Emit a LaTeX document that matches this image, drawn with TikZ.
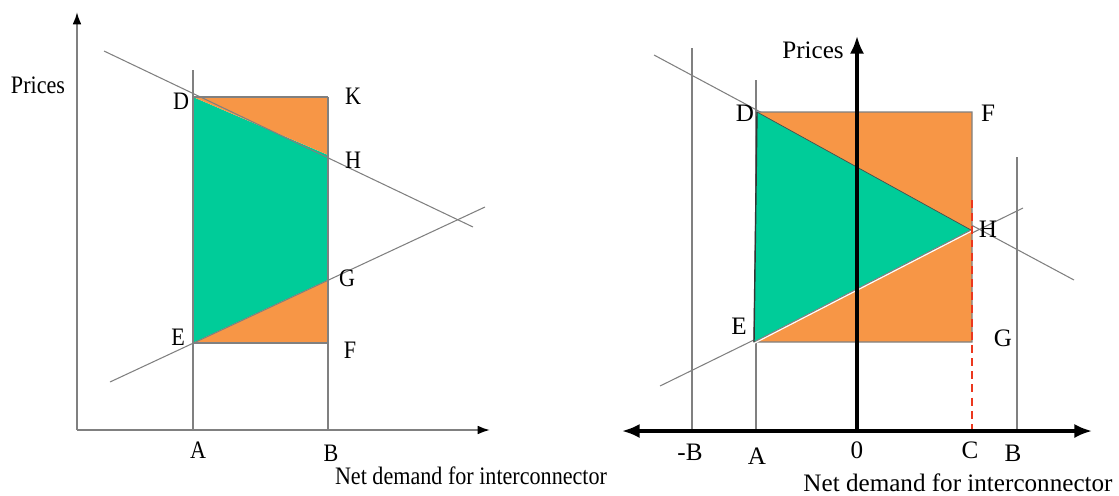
\documentclass[tikz,border=0pt]{standalone}
\usepackage{graphicx}
\usepackage{fontspec}
\setmainfont{Liberation Serif}
\newfontfamily\serifTNR{Liberation Serif}
\usetikzlibrary{arrows.meta}
\definecolor{orangefill}{RGB}{247,150,70}
\definecolor{greenfill}{RGB}{0,204,153}
\definecolor{linegray}{RGB}{128,128,128}
\definecolor{dashred}{RGB}{235,55,30}
\newcommand{\lsq}[1]{\scalebox{0.88}[1]{#1}}
\begin{document}
\begin{tikzpicture}[x=0.02cm,y=-0.02cm,
  thinline/.style={draw=linegray,line width=0.6pt},
  grayaxis/.style={draw=linegray,line width=1.1pt},
  blackaxis/.style={draw=black,line width=1.8pt},
  orangearea/.style={fill=orangefill,draw=none},
  greenarea/.style={fill=greenfill,draw=none},
  lbl/.style={font=\serifTNR\fontsize{14.3}{16}\selectfont,inner sep=0pt},
  reddash/.style={draw=dashred,line width=1.5pt,dash pattern=on 4.5pt off 3pt}]
\useasboundingbox (0,0) rectangle (1119,495);
% ===== Left panel =====
\coordinate (DL) at (193,97);
\coordinate (KL) at (328,97);
\coordinate (HL) at (328,155);
\coordinate (GL) at (328,280);
\coordinate (EL) at (193,343);
\coordinate (FL) at (328,343);
\coordinate (dL1) at (104,51);
\coordinate (dL2) at (473,227);
\coordinate (sL1) at (110,382);
\coordinate (sL2) at (485,207);
\coordinate (aLtop) at (193,70);
\coordinate (aLbot) at (193,430);
\coordinate (bLbot) at (328,430);
\coordinate (oL) at (77,430);
\coordinate (yLtop) at (77,12);
\coordinate (xLend) at (490,430);
\fill[greenarea] (DL) -- (HL) -- (GL) -- (EL) -- cycle;
\fill[orangearea] (DL) -- (KL) -- (HL) -- cycle;
\fill[orangearea] (EL) -- (GL) -- (FL) -- cycle;
\draw[thinline] (DL) -- (KL);
\draw[thinline] (EL) -- (FL);
\draw[thinline] (aLtop) -- (aLbot);
\draw[thinline] (KL) -- (bLbot);
\draw[thinline] (dL1) -- (dL2);
\draw[thinline] (sL1) -- (sL2);
\draw[grayaxis,-{Latex[length=7pt,width=5pt,black]}] (oL) -- (yLtop);
\draw[grayaxis,-{Latex[length=7pt,width=5pt,black]}] (oL) -- (xLend);
\node[lbl] (pricesL) at (38,85) {\lsq{Prices}};
\node[lbl] (labDL) at (181,101) {\lsq{D}};
\node[lbl] (labKL) at (353,96) {\lsq{K}};
\node[lbl] (labHL) at (353,160) {\lsq{H}};
\node[lbl] (labGL) at (347,278) {\lsq{G}};
\node[lbl] (labEL) at (178,337) {\lsq{E}};
\node[lbl] (labFL) at (350,350) {\lsq{F}};
\node[lbl] (labAL) at (198,450) {\lsq{A}};
\node[lbl] (labBL) at (331,453) {\lsq{B}};
\node[lbl] (netL) at (471,476) {\lsq{Net demand for interconnector}};
% ===== Right panel =====
\coordinate (DR) at (757,112);
\coordinate (FR) at (972,112);
\coordinate (GR) at (972,342);
\coordinate (ER) at (754,342);
\coordinate (HR) at (971,230);
\coordinate (dR1) at (654,55);
\coordinate (dR2) at (1074,280);
\coordinate (sR1) at (660,386);
\coordinate (sR2) at (1023,208);
\coordinate (mBtop) at (692,48);
\coordinate (mBbot) at (692,431);
\coordinate (aRtop) at (756,80);
\coordinate (aRbot) at (756,431);
\coordinate (bRtop) at (1017,157);
\coordinate (bRbot) at (1017,431);
\coordinate (oR) at (857,431);
\coordinate (yRtop) at (857,36);
\coordinate (xRleft) at (622,431);
\coordinate (xRright) at (1092,431);
\coordinate (cTop) at (972,200);
\coordinate (cBot) at (972,431);
\draw[thinline] (mBtop) -- (mBbot);
\draw[thinline] (aRtop) -- (aRbot);
\draw[thinline] (bRtop) -- (bRbot);
\draw[thinline] (dR1) -- (dR2);
\draw[thinline] (sR1) -- (sR2);
\filldraw[orangearea,draw=linegray,line width=0.6pt] (DR) -- (FR) -- (GR) -- (ER) -- cycle;
\fill[greenarea] (DR) -- (HR) -- (ER) -- cycle;
\draw[draw=black!70,line width=0.4pt] (DR) -- (HR);
\draw[draw=white,line width=1pt] ([yshift=-0.6pt]ER) -- ([yshift=-0.6pt]HR);
\draw[thinline] (ER) -- (HR);
\draw[draw=black!80,line width=0.8pt] (DR) -- (ER);
\draw[reddash] (cTop) -- (cBot);
\draw[blackaxis,-{Latex[length=10pt,width=8pt]}] (oR) -- (yRtop);
\draw[blackaxis,{Latex[length=10pt,width=8pt]}-{Latex[length=10pt,width=8pt]}] (xRleft) -- (xRright);
\node[lbl] (pricesR) at (813,50) {Prices};
\node[lbl] (labDR) at (745,113) {D};
\node[lbl] (labFR) at (988,113) {F};
\node[lbl] (labHR) at (988,229) {H};
\node[lbl] (labER) at (739,326) {E};
\node[lbl] (labGR) at (1003,338) {G};
\node[lbl] (labmB) at (690,452) {-B};
\node[lbl] (labAR) at (757,456) {A};
\node[lbl] (lab0) at (857,450) {0};
\node[lbl] (labC) at (970,450) {C};
\node[lbl] (labBR) at (1013,453) {B};
\node[lbl] (netR) at (958,483) {Net demand for interconnector};
\end{tikzpicture}
\end{document}
